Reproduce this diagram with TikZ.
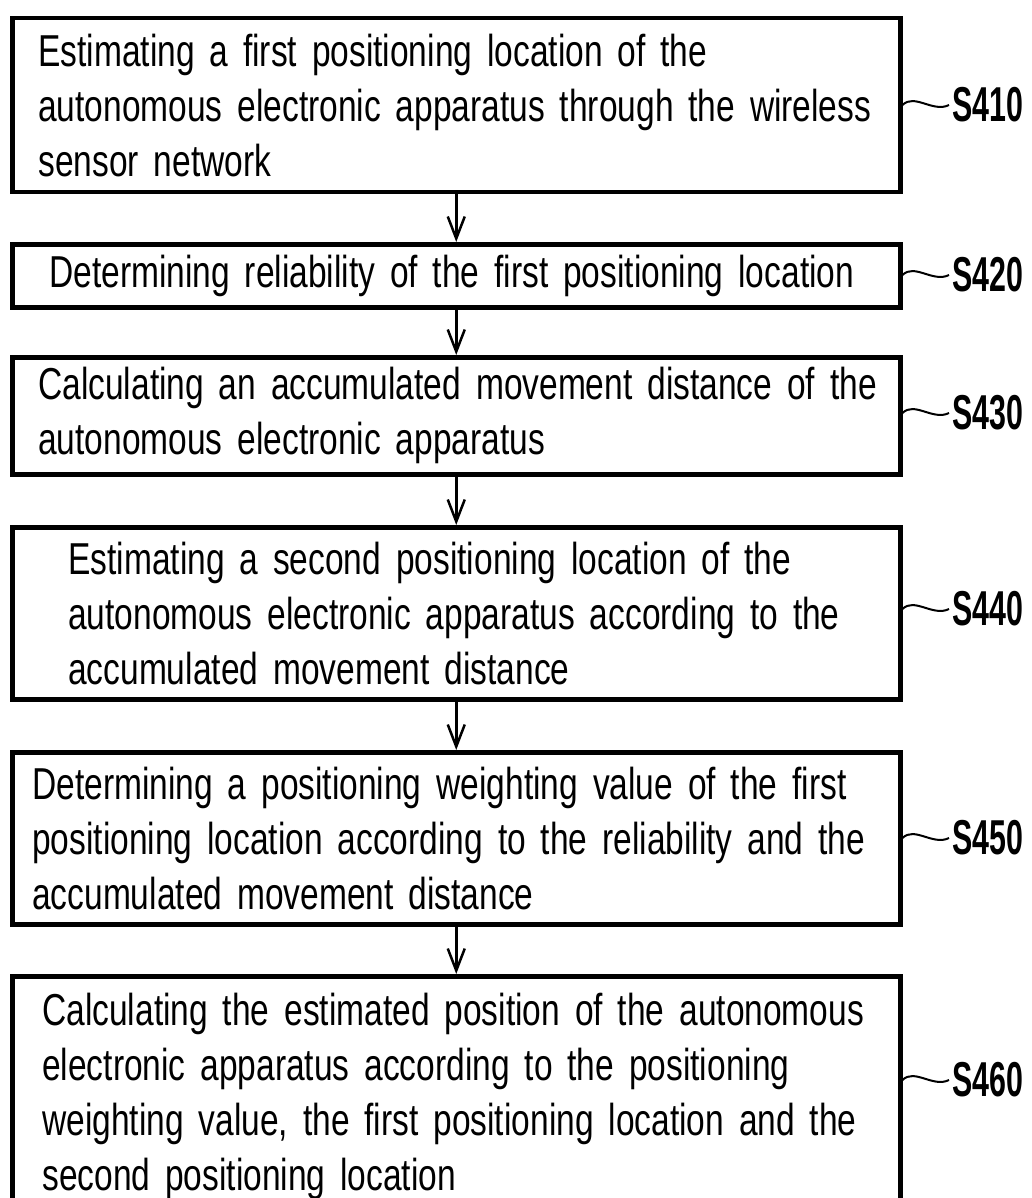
\documentclass[tikz,border=0pt]{standalone}
\usepackage{fontspec}
\setmainfont{Liberation Sans}[FakeStretch=0.75, WordSpace=1.5]
\newfontfamily\lblfont{Liberation Sans}[FakeStretch=0.62]
\usetikzlibrary{arrows.meta}
\tikzset{
  stepbox/.style={draw, line width=4.5pt, anchor=north west, minimum width=888pt,
    inner xsep=#1, text width=888pt-2*#1, align=left, inner ysep=0pt,
    font=\fontsize{44.7}{55}\selectfont},
  flow/.style={line width=2.5pt, -{Straight Barb[length=22pt, width=17pt, line width=2.5pt]}},
  lbl/.style={anchor=west, inner sep=0pt, font=\lblfont\bfseries\fontsize{49}{50}\selectfont},
  squig/.style={line width=2pt}
}
\begin{document}
\begin{tikzpicture}[x=1pt,y=1pt]
\useasboundingbox (0,0) rectangle (1031,-1198);
\clip (0,0) rectangle (1031,-1198);
\fill[white] (0,0) rectangle (1031,-1198);

\node[stepbox=26pt, minimum height=174pt] (b1) at (10,-16)
  {\mbox{Estimating a first positioning location of the}\\
   \mbox{autonomous electronic apparatus through the wireless}\\
   \mbox{sensor network}};
\node[stepbox=37pt, minimum height=63pt] (b2) at (10,-242)
  {\mbox{Determining reliability of the first positioning location}};
\node[stepbox=26pt, minimum height=117pt] (b3) at (10,-355)
  {\mbox{Calculating an accumulated movement distance of the}\\
   \mbox{autonomous electronic apparatus}};
\node[stepbox=56pt, minimum height=172pt] (b4) at (10,-525)
  {\mbox{Estimating a second positioning location of the}\\
   \mbox{autonomous electronic apparatus according to the}\\
   \mbox{accumulated movement distance}};
\node[stepbox=20pt, minimum height=172pt] (b5) at (10,-750)
  {\mbox{Determining a positioning weighting value of the first}\\
   \mbox{positioning location according to the reliability and the}\\
   \mbox{accumulated movement distance}};
\node[stepbox=30pt, minimum height=240pt] (b6) at (10,-974)
  {\mbox{Calculating the estimated position of the autonomous}\\
   \mbox{electronic apparatus according to the positioning}\\
   \mbox{weighting value, the first positioning location and the}\\
   \mbox{second positioning location}};

\draw[flow] (b1.south) -- (b2.north);
\draw[flow] (b2.south) -- (b3.north);
\draw[flow] (b3.south) -- (b4.north);
\draw[flow] (b4.south) -- (b5.north);
\draw[flow] (b5.south) -- (b6.north);

\node[lbl] (l1) at (952,-105) {S410};
\node[lbl] (l2) at (952,-275) {S420};
\node[lbl] (l3) at (952,-413) {S430};
\node[lbl] (l4) at (952,-609) {S440};
\node[lbl] (l5) at (952,-838) {S450};
\node[lbl] (l6) at (952,-1080) {S460};

\foreach \i in {1,...,6}
  \draw[squig] (l\i.west -| b\i.east) .. controls +(12,12) and +(-16,-8) .. ([xshift=-3pt]l\i.west);
\end{tikzpicture}
\end{document}
